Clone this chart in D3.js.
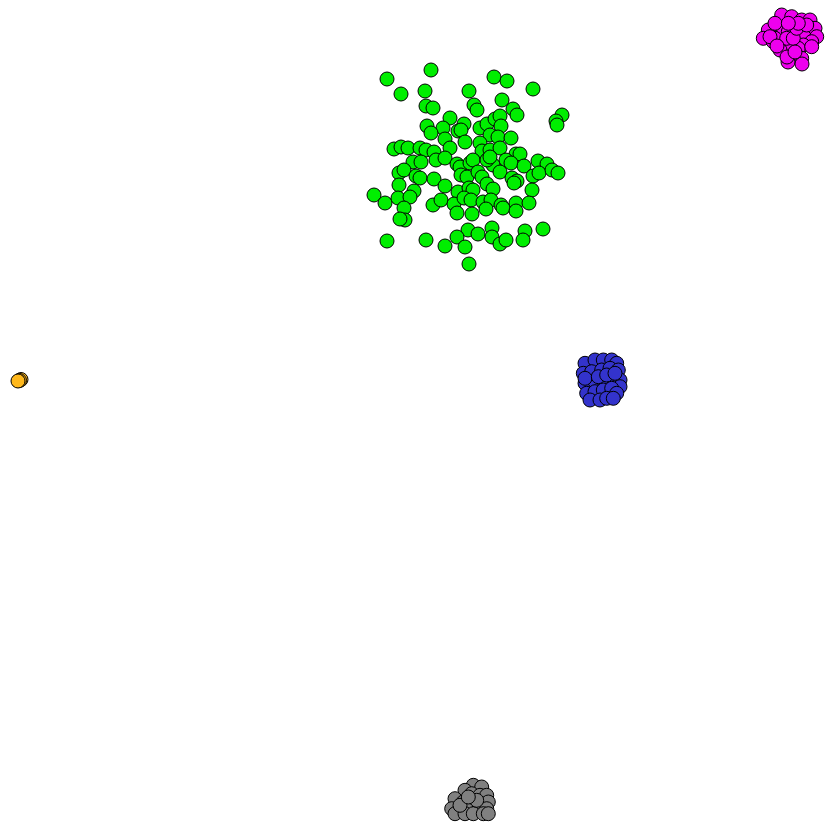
<!DOCTYPE html>
<html>
<head>
<meta charset="utf-8">
<script src="https://cdn.jsdelivr.net/npm/d3@7"></script>
<style>
html,body{margin:0;padding:0;background:#fff;}
svg{display:block;}
</style>
</head>
<body>
<svg id="chart" width="832" height="832"></svg>
<script>
const categories = ["green", "magenta", "blue", "gray", "orange"];
const colors = ["#00ee00", "#ee00ee", "#3333cc", "#808080", "#ffb81c"];

const greenPts = [
[387,79],[431,70],[494,77],[507,81],[533,89],[401,94],[425,91],[469,91],
[426,106],[433,108],[474,105],[477,110],[502,100],[513,109],[517,115],[562,115],[556,121],[557,125],
[450,118],[427,126],[443,128],[464,124],[458,131],[461,130],[480,128],[487,124],[495,119],[500,116],[501,126],[490,135],[498,137],[511,138],
[431,133],[445,139],[465,142],[480,143],[394,149],[401,147],[408,148],[420,148],[426,150],[434,152],[450,148],[482,151],[490,150],[500,148],[516,154],[520,154],[506,160],[493,165],
[413,162],[421,162],[436,160],[445,158],[457,164],[460,167],[470,163],[473,160],[487,160],[490,157],[511,163],[538,161],[547,164],[524,166],
[399,173],[404,170],[416,176],[420,178],[434,179],[461,175],[467,177],[478,172],[482,177],[500,172],[512,178],[517,181],[533,176],[539,173],[552,170],[558,173],
[374,195],[399,185],[414,191],[445,186],[458,192],[469,188],[473,190],[487,184],[493,189],[514,183],[532,190],
[385,203],[398,198],[410,197],[433,205],[441,200],[454,204],[464,198],[471,200],[483,202],[491,200],[501,205],[503,208],[516,203],[516,211],[529,203],
[404,208],[405,220],[400,219],[457,213],[472,214],[486,209],
[468,230],[478,234],[492,228],[525,231],[543,229],
[387,241],[426,240],[445,246],[457,237],[465,247],[492,237],[500,244],[506,240],[523,240],
[469,264]
];

const magentaPts = [
[781.7,15],[791.7,16.7],[801.7,20],[810,20],[768.3,30],[763.3,38.3],[773.3,41.7],[783.3,28.3],[788.3,31.7],[798.3,30],
[805,36.7],[815,28.3],[816.7,36.7],[811.7,41.7],[803.3,45],[798.3,48.3],[788.3,46.7],[780,50],[775,38.3],[770,36.7],
[786.7,38.3],[793.3,38.3],[801.7,58.3],[811.7,46.7],[796.7,28.3],[806.7,25],[775,23.3],[798.3,23.3],[788.3,23.3],
[788,62],[802,64],[787,57],[795,52],[777,46]
];

const bluePts = [
[585,363.3],[595,360],[603.3,360],[611.7,360],[616.7,363.3],[583.3,373.3],[591.7,371.7],[601.7,370],[610,368.3],[618.3,370],
[585,383.3],[595,381.7],[603.3,380],[613.3,378.3],[620,380],[620,386.7],[586.7,393.3],[595,391.7],[603.3,390],[611.7,388.3],
[616.7,393.3],[590,400],[600,400],[606.7,398.3],[613.3,398.3],[585,378.3],[598.3,376.7],[606.7,375],[615,373.3]
];

const grayPts = [
[473.3,785.3],[481.7,787],[465,790.3],[471.7,793.7],[480,795.3],[486.7,795.3],[455,798.7],[463.3,802],[473.3,803.7],[481.7,803.7],
[488.3,802],[451.7,808.7],[460,808.7],[468.3,810.3],[478.3,810.3],[486.7,808.7],[455,813.7],[465,813.7],[473.3,813.7],[483.3,813.7],
[488.3,813.7],[460,805.3],[476.7,800.3],[468.3,797]
];

const orangePts = [[21,379.5],[19.5,380.5],[18,381]];

const series = [greenPts, magentaPts, bluePts, grayPts, orangePts];

const W = 832, H = 832;
const x = d3.scaleLinear().domain([0, 832]).range([0, W]);
const y = d3.scaleLinear().domain([0, 832]).range([0, H]);
const color = d3.scaleOrdinal().domain(categories).range(colors);

const svg = d3.select("#chart");
categories.forEach((c, i) => {
  svg.append("g")
    .selectAll("circle")
    .data(series[i])
    .join("circle")
    .attr("cx", d => x(d[0]))
    .attr("cy", d => y(d[1]))
    .attr("r", 7)
    .attr("fill", color(c))
    .attr("stroke", "#000")
    .attr("stroke-width", 1);
});
</script>
</body>
</html>
